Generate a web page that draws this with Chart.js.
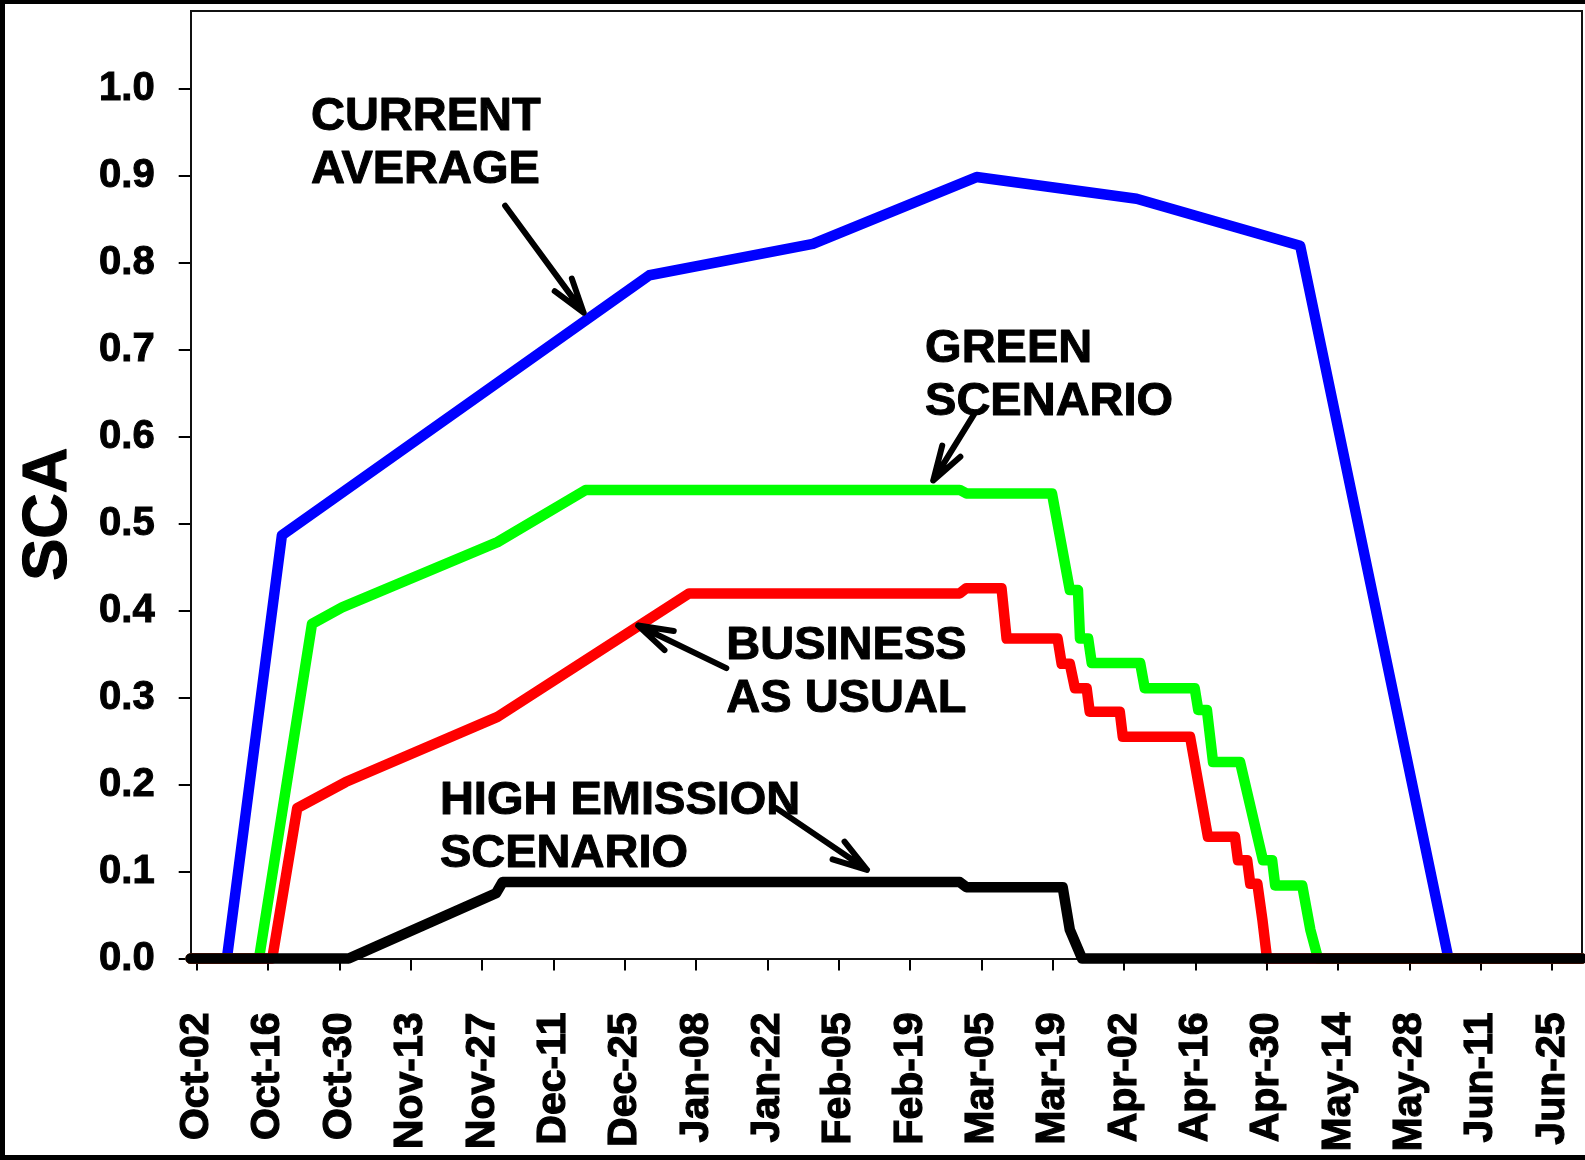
<!DOCTYPE html>
<html>
<head>
<meta charset="utf-8">
<title>SCA scenarios</title>
<script src="https://cdn.jsdelivr.net/npm/chart.js@4.4.1/dist/chart.umd.min.js"></script>
<style>
  html, body { margin: 0; padding: 0; background: #fff; }
  #wrap { width: 1585px; height: 1160px; }
</style>
</head>
<body>
<div id="wrap"><canvas id="scaChart" width="1585" height="1160"></canvas></div>
<script>
// x values are days since Oct-02, ticks every 14 days
const tickLabels = ['Oct-02', 'Oct-16', 'Oct-30', 'Nov-13', 'Nov-27', 'Dec-11', 'Dec-25', 'Jan-08', 'Jan-22', 'Feb-05',
    'Feb-19', 'Mar-05', 'Mar-19', 'Apr-02', 'Apr-16', 'Apr-30', 'May-14', 'May-28', 'Jun-11', 'Jun-25'];
const yTicks = [0, 0.1, 0.2, 0.3, 0.4, 0.5, 0.6, 0.7, 0.8, 0.9, 1.0];

const currentDays = [-1.2, 5.9, 16.7, 88.8, 120.9, 153.0, 184.4, 216.5, 245.6, 271.8];
const currentSca  = [0, 0, 0.487, 0.786, 0.822, 0.899, 0.874, 0.820, 0, 0];

const greenDays = [-1.2, 12.2, 22.6, 28.5, 59.0, 76.3, 149.7, 151.0, 167.8, 171.3, 172.9, 173.3, 174.9, 175.6,
    185.1, 186.0, 195.8, 196.5, 198.2, 199.4, 204.7, 209.2, 211.0, 211.6, 216.9, 218.5, 220.0, 271.8];
const greenSca  = [0, 0, 0.385, 0.404, 0.479, 0.539, 0.539, 0.535, 0.535, 0.424, 0.424, 0.368, 0.368, 0.340,
    0.340, 0.311, 0.311, 0.286, 0.286, 0.226, 0.226, 0.113, 0.113, 0.084, 0.084, 0.033, 0, 0];

const bauDays = [-1.2, 14.8, 19.7, 29.2, 59.0, 96.6, 149.7, 151.0, 157.9, 158.9, 168.9, 169.7, 171.3, 172.3,
    174.6, 175.2, 181.1, 181.7, 194.9, 198.4, 203.7, 204.3, 206.1, 206.7, 208.1, 209.1, 210.0, 271.8];
const bauSca  = [0, 0, 0.173, 0.203, 0.278, 0.420, 0.420, 0.426, 0.426, 0.368, 0.368, 0.339, 0.339, 0.311,
    0.311, 0.284, 0.284, 0.255, 0.255, 0.140, 0.140, 0.113, 0.113, 0.086, 0.086, 0.044, 0, 0];

const highDays = [-1.2, 29.8, 58.7, 60.0, 149.7, 151.0, 169.9, 171.3, 173.7, 271.8];
const highSca  = [0, 0, 0.075, 0.088, 0.088, 0.082, 0.082, 0.033, 0, 0];

// labels with arrows, placed in data units (day, SCA)
const notes = [
    { lines: ['CURRENT', 'AVERAGE'], day: 22.4, sca: 0.953, from: [60.5, 0.866], to: [75.9, 0.743] },
    { lines: ['GREEN', 'SCENARIO'], day: 142.9, sca: 0.686, from: [152.5, 0.626], to: [144.5, 0.550] },
    { lines: ['BUSINESS', 'AS USUAL'], day: 103.9, sca: 0.345, from: [103.9, 0.334], to: [86.6, 0.383] },
    { lines: ['HIGH EMISSION', 'SCENARIO'], day: 47.7, sca: 0.166, from: [113.7, 0.173], to: [131.5, 0.102] }
];

const FONT = "'Liberation Sans', Arial, sans-serif";

function toPoints(days, vals) {
    return days.map((d, i) => ({ x: d, y: vals[i] }));
}

function noPadding(s) {
    s.paddingLeft = 0;
    s.paddingRight = 0;
    s.paddingTop = 0;
    s.paddingBottom = 0;
}

function drawArrow(ctx, x1, y1, x2, y2) {
    const ang = Math.atan2(y2 - y1, x2 - x1);
    const len = 36, spread = 0.30;
    ctx.beginPath();
    ctx.moveTo(x1, y1);
    ctx.lineTo(x2, y2);
    ctx.moveTo(x2 - len * Math.cos(ang - spread), y2 - len * Math.sin(ang - spread));
    ctx.lineTo(x2, y2);
    ctx.lineTo(x2 - len * Math.cos(ang + spread), y2 - len * Math.sin(ang + spread));
    ctx.stroke();
}

const framePlugin = {
    id: 'frame',
    beforeDatasetsDraw(chart) {
        const { ctx, chartArea: a } = chart;
        ctx.save();
        ctx.strokeStyle = '#111';
        ctx.lineWidth = 2;
        ctx.beginPath();
        ctx.moveTo(a.left, a.top);
        ctx.lineTo(a.right, a.top);
        ctx.lineTo(a.right, a.bottom);
        ctx.stroke();
        ctx.restore();
    },
    afterDraw(chart) {
        const { ctx, width, height } = chart;
        ctx.save();
        ctx.fillStyle = '#000';
        ctx.fillRect(0, 0, width, 4);
        ctx.fillRect(0, 0, 5, height);
        ctx.fillRect(0, height - 5, width, 5);
        ctx.restore();
    }
};

const notesPlugin = {
    id: 'notes',
    afterDatasetsDraw(chart) {
        const { ctx, scales: { x, y } } = chart;
        ctx.save();
        ctx.fillStyle = '#000';
        ctx.strokeStyle = '#000';
        ctx.font = 'bold 47px ' + FONT;
        ctx.textBaseline = 'alphabetic';
        ctx.textAlign = 'left';
        notes.forEach(n => {
            const px = x.getPixelForValue(n.day);
            const py = y.getPixelForValue(n.sca);
            ctx.lineWidth = 1;
            ctx.lineJoin = 'round';
            n.lines.forEach((t, i) => {
                ctx.fillText(t, px, py + i * 53);
                ctx.strokeText(t, px, py + i * 53);
            });
            ctx.lineWidth = 6;
            ctx.lineCap = 'round';
            drawArrow(ctx, x.getPixelForValue(n.from[0]), y.getPixelForValue(n.from[1]),
                x.getPixelForValue(n.to[0]), y.getPixelForValue(n.to[1]));
        });

        // y axis title
        ctx.save();
        ctx.translate(49, y.getPixelForValue(0.511));
        ctx.rotate(-Math.PI / 2);
        ctx.font = 'bold 63px ' + FONT;
        ctx.textAlign = 'center';
        ctx.textBaseline = 'middle';
        ctx.lineWidth = 1.2;
        ctx.fillText('SCA', 0, 0);
        ctx.strokeText('SCA', 0, 0);
        ctx.restore();
        ctx.restore();
    }
};

function lineSet(label, days, vals, color) {
    return {
        label,
        data: toPoints(days, vals),
        borderColor: color,
        backgroundColor: color,
        borderWidth: 10.5,
        pointRadius: 0,
        tension: 0,
        fill: false,
        clip: 12,
        borderJoinStyle: 'round',
        borderCapStyle: 'round'
    };
}

const ctx = document.getElementById('scaChart').getContext('2d');
new Chart(ctx, {
    type: 'line',
    data: {
        datasets: [
            lineSet('High emission scenario', highDays, highSca, '#000000'),
            lineSet('Business as usual', bauDays, bauSca, '#ff0000'),
            lineSet('Green scenario', greenDays, greenSca, '#00ff00'),
            lineSet('Current average', currentDays, currentSca, '#0000ff')
        ]
    },
    options: {
        responsive: false,
        animation: false,
        layout: { padding: { left: 0, top: 11, right: 3, bottom: 0 } },
        plugins: { legend: { display: false }, tooltip: { enabled: false } },
        scales: {
            x: {
                type: 'linear',
                min: -1.2,
                max: 271.8,
                afterBuildTicks: s => { s.ticks = tickLabels.map((_, i) => ({ value: i * 14 })); },
                afterFit: s => { s.height = 201.5; noPadding(s); },
                ticks: {
                    autoSkip: false,
                    minRotation: 90,
                    maxRotation: 90,
                    padding: 42,
                    color: '#000',
                    textStrokeColor: '#000',
                    textStrokeWidth: 1.2,
                    font: { family: FONT, size: 41, weight: 'bold' },
                    callback: v => tickLabels[Math.round(v / 14)]
                },
                grid: { drawOnChartArea: false, drawTicks: true, tickLength: 12, color: '#000', lineWidth: 2 },
                border: { display: true, color: '#111', width: 2 }
            },
            y: {
                min: 0,
                max: 1.09,
                afterBuildTicks: s => { s.ticks = yTicks.map(v => ({ value: v })); },
                afterFit: s => { s.width = 190.7; noPadding(s); },
                ticks: {
                    padding: 24,
                    color: '#000',
                    textStrokeColor: '#000',
                    textStrokeWidth: 1,
                    font: { family: FONT, size: 40, weight: 'bold' },
                    callback: v => v.toFixed(1)
                },
                grid: { drawOnChartArea: false, drawTicks: true, tickLength: 12, color: '#000', lineWidth: 2 },
                border: { display: true, color: '#111', width: 2 }
            }
        }
    },
    plugins: [framePlugin, notesPlugin]
});
</script>
</body>
</html>
